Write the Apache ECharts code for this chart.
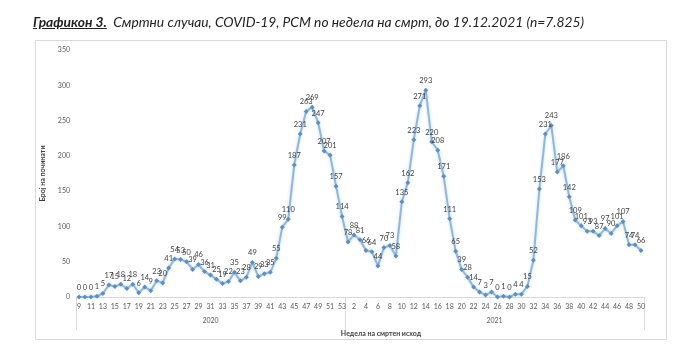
<!DOCTYPE html>
<html>
<head>
<meta charset="utf-8">
<script src="https://cdn.jsdelivr.net/npm/echarts@6/dist/echarts.min.js"></script>
<style>
  html, body { margin: 0; padding: 0; background: #fff; }
  #wrap { position: relative; width: 693px; height: 348px; }
  #chart { position: absolute; left: 0; top: 0; width: 693px; height: 348px; }
  #title {
    position: absolute; left: 33px; top: 13px; z-index: 2;
    font-family: Lato, "Open Sans", sans-serif; font-style: italic;
    font-size: 13.8px; color: #222; white-space: nowrap;
  }
  #title .num { font-weight: bold; text-decoration: underline; }
</style>
</head>
<body>
<div id="wrap">
  <div id="chart"></div>
  <div id="title"><span class="num">Графикон 3.</span>&nbsp; Смртни случаи, COVID-19, РСМ по недела на смрт, до 19.12.2021 (n=7.825)</div>
</div>
<script>
// Week numbers of death, per year
const weeks2020 = [9, 10, 11, 12, 13, 14, 15, 16, 17, 18, 19, 20, 21, 22, 23, 24, 25, 26, 27, 28, 29, 30, 31,
  32, 33, 34, 35, 36, 37, 38, 39, 40, 41, 42, 43, 44, 45, 46, 47, 48, 49, 50, 51, 52, 53];
const weeks2021 = [1, 2, 3, 4, 5, 6, 7, 8, 9, 10, 11, 12, 13, 14, 15, 16, 17, 18, 19, 20, 21, 22, 23, 24, 25,
  26, 27, 28, 29, 30, 31, 32, 33, 34, 35, 36, 37, 38, 39, 40, 41, 42, 43, 44, 45, 46, 47, 48, 49, 50];

// Weekly COVID-19 deaths
const deaths2020 = [0, 0, 0, 1, 5, 17, 15, 18, 12, 18, 6, 14, 9, 23, 20, 41, 54, 53, 50, 39, 46, 36, 31,
  25, 19, 22, 35, 23, 28, 49, 29, 33, 35, 55, 99, 110, 187, 231, 263, 269, 247, 207, 201, 157, 114];
const deaths2021 = [78, 88, 81, 66, 64, 44, 70, 73, 58, 135, 162, 223, 271, 293, 220, 208, 171, 111, 65, 39,
  28, 14, 7, 3, 7, 0, 1, 0, 4, 4, 15, 52, 153, 231, 243, 177, 186, 142, 109, 101, 93, 93, 87, 97, 90,
  101, 107, 74, 74, 66];

const years = ['2020', '2021'];
const yTicks = { min: 0, max: 350, step: 50 };

const categories = weeks2020.map(w => years[0] + '-' + w)
  .concat(weeks2021.map(w => years[1] + '-' + w));
const values = deaths2020.concat(deaths2021);

const FONT = 'Lato, "Open Sans", sans-serif';
const chart = echarts.init(document.getElementById('chart'));

chart.setOption({
  animation: false,
  textStyle: { fontFamily: FONT },
  grid: { left: 76, right: 49, top: 50, bottom: 51 },
  xAxis: {
    type: 'category',
    data: categories,
    boundaryGap: true,
    axisLine: { lineStyle: { color: '#d9d9d9', width: 1 } },
    axisTick: { show: false },
    axisLabel: {
      fontSize: 7, color: '#595959', margin: 6,
      // odd weeks in the first year, even weeks in the second
      interval: function (i, v) {
        const p = v.split('-');
        const w = +p[1];
        return p[0] === years[0] ? w % 2 === 1 : w % 2 === 0;
      },
      formatter: v => v.split('-')[1]
    }
  },
  yAxis: {
    type: 'value',
    min: yTicks.min, max: yTicks.max, interval: yTicks.step,
    splitLine: { show: false },
    axisLine: { show: false },
    axisTick: { show: false },
    axisLabel: { fontSize: 7, color: '#595959', margin: 6 },
    name: 'Број на починати',
    nameLocation: 'middle',
    nameGap: 30,
    nameTextStyle: { fontSize: 7, fontWeight: 'bold', color: '#404040' }
  },
  series: [{
    type: 'line',
    data: values,
    symbol: 'diamond',
    symbolSize: 5,
    showAllSymbol: true,
    lineStyle: { color: '#8cb9e4', width: 2, shadowColor: 'rgba(140,185,228,0.5)', shadowBlur: 3 },
    itemStyle: { color: '#5b8fc9' },
    labelLayout: { hideOverlap: false },
    label: {
      show: true, position: 'top', distance: 3,
      fontSize: 7.5, color: '#404040'
    }
  }]
});

// Year grouping under the week labels, placed from the category axis scale
function drawGroups() {
  const px = i => chart.convertToPixel({ xAxisIndex: 0 }, i);
  const band = px(1) - px(0);
  const n1 = weeks2020.length;
  const n = categories.length;
  const left = px(0) - band / 2;
  const mid = px(n1 - 1) + band / 2;
  const right = px(n - 1) + band / 2;
  const yAxisPx = chart.convertToPixel({ yAxisIndex: 0 }, 0);
  const sepStyle = { stroke: '#d9d9d9', lineWidth: 1 };
  const sep = x => ({
    type: 'line', silent: true,
    shape: { x1: Math.round(x) + 0.5, y1: yAxisPx, x2: Math.round(x) + 0.5, y2: yAxisPx + 33 },
    style: sepStyle
  });
  const yearText = (x, t) => ({
    type: 'text', silent: true, x: x, y: yAxisPx + 24,
    style: { text: t, fontSize: 7, fill: '#595959', align: 'center', verticalAlign: 'middle', fontFamily: FONT }
  });
  chart.setOption({
    graphic: [
      {
        type: 'rect', silent: true,
        shape: { x: 35.5, y: 40.5, width: 631, height: 299 },
        style: { fill: 'none', stroke: '#d9d9d9', lineWidth: 1 }
      },
      sep(left), sep(mid), sep(right),
      yearText((left + mid) / 2, years[0]),
      yearText((mid + right) / 2, years[1]),
      {
        type: 'text', silent: true, x: 381, y: yAxisPx + 37,
        style: {
          text: 'Недела на смртен исход', fontSize: 7, fontWeight: 'bold',
          fill: '#404040', align: 'center', verticalAlign: 'middle', fontFamily: FONT
        }
      }
    ]
  });
}
drawGroups();
</script>
</body>
</html>
